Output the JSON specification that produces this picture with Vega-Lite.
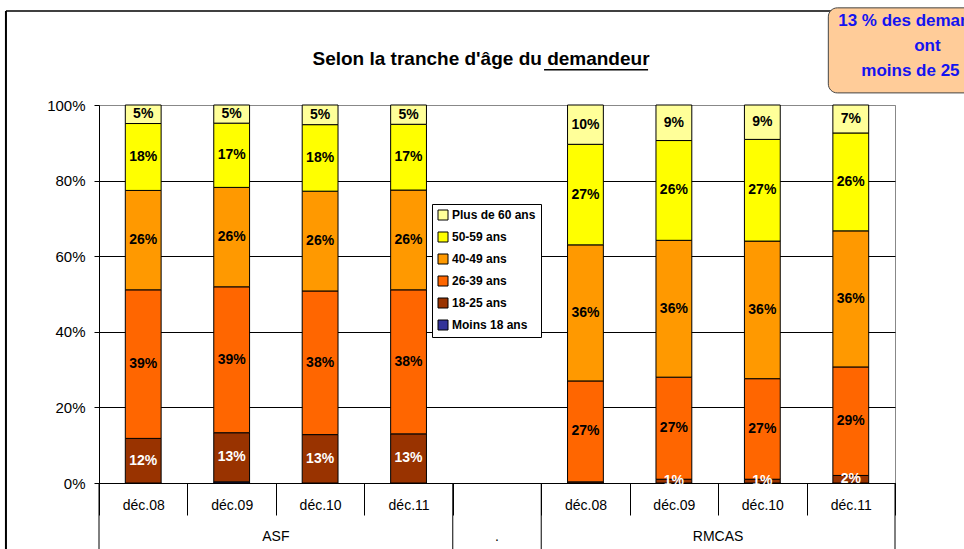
{
  "$schema": "https://vega.github.io/schema/vega-lite/v6.json",
  "width": 796,
  "height": 378,
  "autosize": "none",
  "padding": {"left": 99, "top": 105, "right": 69, "bottom": 66},
  "background": "white",
  "config": {
    "font": "Liberation Sans",
    "view": {"stroke": "#888888", "strokeWidth": 1}
  },
  "title": {
    "text": "Selon la tranche d'âge du demandeur",
    "fontSize": 19,
    "fontWeight": "bold",
    "color": "black",
    "anchor": "middle",
    "frame": "group",
    "dx": -16,
    "offset": -62
  },
  "data": {
    "values": [
      {"groupe": "ASF", "col": "ASF|déc.08", "tranche": "Moins 18 ans", "part": 0.0},
      {"groupe": "ASF", "col": "ASF|déc.08", "tranche": "18-25 ans", "part": 0.118},
      {"groupe": "ASF", "col": "ASF|déc.08", "tranche": "26-39 ans", "part": 0.393},
      {"groupe": "ASF", "col": "ASF|déc.08", "tranche": "40-49 ans", "part": 0.263},
      {"groupe": "ASF", "col": "ASF|déc.08", "tranche": "50-59 ans", "part": 0.177},
      {"groupe": "ASF", "col": "ASF|déc.08", "tranche": "Plus de 60 ans", "part": 0.049},
      {"groupe": "ASF", "col": "ASF|déc.09", "tranche": "Moins 18 ans", "part": 0.003},
      {"groupe": "ASF", "col": "ASF|déc.09", "tranche": "18-25 ans", "part": 0.130},
      {"groupe": "ASF", "col": "ASF|déc.09", "tranche": "26-39 ans", "part": 0.386},
      {"groupe": "ASF", "col": "ASF|déc.09", "tranche": "40-49 ans", "part": 0.263},
      {"groupe": "ASF", "col": "ASF|déc.09", "tranche": "50-59 ans", "part": 0.170},
      {"groupe": "ASF", "col": "ASF|déc.09", "tranche": "Plus de 60 ans", "part": 0.048},
      {"groupe": "ASF", "col": "ASF|déc.10", "tranche": "Moins 18 ans", "part": 0.0},
      {"groupe": "ASF", "col": "ASF|déc.10", "tranche": "18-25 ans", "part": 0.128},
      {"groupe": "ASF", "col": "ASF|déc.10", "tranche": "26-39 ans", "part": 0.380},
      {"groupe": "ASF", "col": "ASF|déc.10", "tranche": "40-49 ans", "part": 0.264},
      {"groupe": "ASF", "col": "ASF|déc.10", "tranche": "50-59 ans", "part": 0.176},
      {"groupe": "ASF", "col": "ASF|déc.10", "tranche": "Plus de 60 ans", "part": 0.052},
      {"groupe": "ASF", "col": "ASF|déc.11", "tranche": "Moins 18 ans", "part": 0.0},
      {"groupe": "ASF", "col": "ASF|déc.11", "tranche": "18-25 ans", "part": 0.130},
      {"groupe": "ASF", "col": "ASF|déc.11", "tranche": "26-39 ans", "part": 0.381},
      {"groupe": "ASF", "col": "ASF|déc.11", "tranche": "40-49 ans", "part": 0.264},
      {"groupe": "ASF", "col": "ASF|déc.11", "tranche": "50-59 ans", "part": 0.174},
      {"groupe": "ASF", "col": "ASF|déc.11", "tranche": "Plus de 60 ans", "part": 0.051},
      {"groupe": "RMCAS", "col": "RMCAS|déc.08", "tranche": "Moins 18 ans", "part": 0.0},
      {"groupe": "RMCAS", "col": "RMCAS|déc.08", "tranche": "18-25 ans", "part": 0.003},
      {"groupe": "RMCAS", "col": "RMCAS|déc.08", "tranche": "26-39 ans", "part": 0.267},
      {"groupe": "RMCAS", "col": "RMCAS|déc.08", "tranche": "40-49 ans", "part": 0.360},
      {"groupe": "RMCAS", "col": "RMCAS|déc.08", "tranche": "50-59 ans", "part": 0.266},
      {"groupe": "RMCAS", "col": "RMCAS|déc.08", "tranche": "Plus de 60 ans", "part": 0.104},
      {"groupe": "RMCAS", "col": "RMCAS|déc.09", "tranche": "Moins 18 ans", "part": 0.0},
      {"groupe": "RMCAS", "col": "RMCAS|déc.09", "tranche": "18-25 ans", "part": 0.010},
      {"groupe": "RMCAS", "col": "RMCAS|déc.09", "tranche": "26-39 ans", "part": 0.270},
      {"groupe": "RMCAS", "col": "RMCAS|déc.09", "tranche": "40-49 ans", "part": 0.362},
      {"groupe": "RMCAS", "col": "RMCAS|déc.09", "tranche": "50-59 ans", "part": 0.264},
      {"groupe": "RMCAS", "col": "RMCAS|déc.09", "tranche": "Plus de 60 ans", "part": 0.094},
      {"groupe": "RMCAS", "col": "RMCAS|déc.10", "tranche": "Moins 18 ans", "part": 0.0},
      {"groupe": "RMCAS", "col": "RMCAS|déc.10", "tranche": "18-25 ans", "part": 0.010},
      {"groupe": "RMCAS", "col": "RMCAS|déc.10", "tranche": "26-39 ans", "part": 0.266},
      {"groupe": "RMCAS", "col": "RMCAS|déc.10", "tranche": "40-49 ans", "part": 0.364},
      {"groupe": "RMCAS", "col": "RMCAS|déc.10", "tranche": "50-59 ans", "part": 0.269},
      {"groupe": "RMCAS", "col": "RMCAS|déc.10", "tranche": "Plus de 60 ans", "part": 0.091},
      {"groupe": "RMCAS", "col": "RMCAS|déc.11", "tranche": "Moins 18 ans", "part": 0.0},
      {"groupe": "RMCAS", "col": "RMCAS|déc.11", "tranche": "18-25 ans", "part": 0.020},
      {"groupe": "RMCAS", "col": "RMCAS|déc.11", "tranche": "26-39 ans", "part": 0.287},
      {"groupe": "RMCAS", "col": "RMCAS|déc.11", "tranche": "40-49 ans", "part": 0.360},
      {"groupe": "RMCAS", "col": "RMCAS|déc.11", "tranche": "50-59 ans", "part": 0.259},
      {"groupe": "RMCAS", "col": "RMCAS|déc.11", "tranche": "Plus de 60 ans", "part": 0.074}
    ]
  },
  "transform": [
    {"calculate": "indexof(['Moins 18 ans','18-25 ans','26-39 ans','40-49 ans','50-59 ans','Plus de 60 ans'], datum.tranche)", "as": "k"},
    {"stack": "part", "groupby": ["col"], "sort": [{"field": "k", "order": "ascending"}], "as": ["p0", "p1"]},
    {"calculate": "(datum.p0 + datum.p1) / 2", "as": "pm"}
  ],
  "encoding": {
    "x": {
      "field": "col",
      "type": "nominal",
      "scale": {
        "domain": ["ASF|déc.08", "ASF|déc.09", "ASF|déc.10", "ASF|déc.11", ".", "RMCAS|déc.08", "RMCAS|déc.09", "RMCAS|déc.10", "RMCAS|déc.11"],
        "paddingInner": 0,
        "paddingOuter": 0
      },
      "axis": {
        "title": null,
        "ticks": true,
        "tickBand": "extent",
        "labelAngle": 0,
        "labelPadding": -17,
        "labelFontSize": 14,
        "labelColor": "black",
        "labelExpr": "datum.value == '.' ? '' : split(datum.value, '|')[1]",
        "tickSize": 32,
        "tickColor": "black",
        "tickWidth": 1,
        "domainColor": "black",
        "grid": false
      }
    }
  },
  "layer": [
    {
      "data": {"values": [{"a": "ASF|déc.08", "b": "RMCAS|déc.11"}]},
      "transform": [],
      "mark": {"type": "rule", "color": "black", "strokeWidth": 1.5, "clip": false},
      "encoding": {
        "x": {"field": "a", "type": "nominal", "bandPosition": -1.052},
        "x2": {"field": "b", "bandPosition": 1.8},
        "y": {"datum": 1.2487}
      }
    },
    {
      "data": {"values": [{"a": "ASF|déc.08"}]},
      "transform": [],
      "mark": {"type": "rule", "color": "black", "strokeWidth": 2, "clip": false},
      "encoding": {
        "x": {"field": "a", "type": "nominal", "bandPosition": -1.052},
        "y": {"datum": 1.2487},
        "y2": {"datum": -0.2}
      }
    },
    {
      "mark": {"type": "bar", "width": {"band": 0.405}, "stroke": "black", "strokeWidth": 1},
      "encoding": {
        "y": {
          "field": "p0",
          "type": "quantitative",
          "scale": {"domain": [0, 1], "nice": false, "zero": true},
          "axis": {
            "title": null,
            "values": [0, 0.2, 0.4, 0.6, 0.8, 1],
            "format": ".0%",
            "labelFontSize": 15,
            "labelColor": "black",
            "labelPadding": 9,
            "tickSize": 5,
            "tickColor": "black",
            "domainColor": "black",
            "grid": true,
            "gridColor": {"condition": {"test": "datum.value == 1", "value": "#888888"}, "value": "black"},
            "gridOpacity": 1
          }
        },
        "y2": {"field": "p1"},
        "color": {
          "field": "tranche",
          "type": "nominal",
          "scale": {
            "domain": ["Plus de 60 ans", "50-59 ans", "40-49 ans", "26-39 ans", "18-25 ans", "Moins 18 ans"],
            "range": ["#FFFF99", "#FFFF00", "#FF9900", "#FF6600", "#993300", "#333399"]
          },
          "legend": {
            "title": null,
            "orient": "none",
            "legendX": 333,
            "legendY": 99,
            "fillColor": "white",
            "strokeColor": "black",
            "padding": 5,
            "rowPadding": 8,
            "symbolType": "square",
            "symbolSize": 100,
            "symbolStrokeColor": "black",
            "symbolStrokeWidth": 1,
            "symbolOpacity": 1,
            "labelFontSize": 12,
            "labelFontWeight": "bold",
            "labelColor": "black",
            "labelOffset": 3
          }
        }
      }
    },
    {
      "transform": [{"filter": "datum.part >= 0.005"}],
      "mark": {"type": "text", "fontSize": 14, "fontWeight": "bold", "baseline": "middle", "align": "center"},
      "encoding": {
        "y": {"field": "pm", "type": "quantitative"},
        "text": {"field": "part", "type": "quantitative", "format": ".0%"},
        "color": {
          "condition": {"test": "datum.tranche == '18-25 ans'", "value": "white"},
          "value": "black"
        }
      }
    },
    {
      "data": {"values": [{"col": "ASF|déc.08"}, {"col": "."}, {"col": "RMCAS|déc.08"}]},
      "transform": [],
      "mark": {"type": "rule", "color": "black", "strokeWidth": 1, "clip": false},
      "encoding": {
        "x": {"field": "col", "type": "nominal", "bandPosition": 0},
        "y": {"datum": 0},
        "y2": {"datum": -0.18}
      }
    },
    {
      "data": {"values": [{"col": "RMCAS|déc.11"}]},
      "transform": [],
      "mark": {"type": "rule", "color": "black", "strokeWidth": 1, "clip": false},
      "encoding": {
        "x": {"field": "col", "type": "nominal", "bandPosition": 1},
        "y": {"datum": 0},
        "y2": {"datum": -0.18}
      }
    },
    {
      "data": {"values": [{"col": "ASF|déc.09", "groupe": "ASF"}, {"col": "RMCAS|déc.09", "groupe": "RMCAS"}]},
      "transform": [],
      "mark": {"type": "text", "fontSize": 14, "color": "black", "baseline": "middle", "align": "center", "clip": false},
      "encoding": {
        "x": {"field": "col", "type": "nominal", "bandPosition": 1},
        "y": {"datum": -0.142},
        "text": {"field": "groupe"}
      }
    },
    {
      "data": {"values": [{"col": ".", "groupe": "."}]},
      "transform": [],
      "mark": {"type": "text", "fontSize": 14, "color": "black", "baseline": "middle", "align": "center", "clip": false},
      "encoding": {
        "x": {"field": "col", "type": "nominal", "bandPosition": 0.5},
        "y": {"datum": -0.142},
        "text": {"field": "groupe"}
      }
    },
    {
      "data": {"values": [{"a": "RMCAS|déc.08", "b": "RMCAS|déc.09"}]},
      "transform": [],
      "mark": {"type": "rule", "color": "black", "strokeWidth": 1.5, "clip": false},
      "encoding": {
        "x": {"field": "a", "type": "nominal", "bandPosition": 0.032},
        "x2": {"field": "b", "bandPosition": 0.208},
        "y": {"datum": 1.093}
      }
    },
    {
      "data": {"values": [{"c": "RMCAS|déc.11"}]},
      "transform": [],
      "mark": {"type": "rect", "fill": "#FFCC99", "stroke": "#444444", "strokeWidth": 1, "cornerRadius": 9, "clip": false},
      "encoding": {
        "x": {"field": "c", "type": "nominal", "bandPosition": 0.246},
        "x2": {"field": "c", "bandPosition": 2.5},
        "y": {"datum": 1.257},
        "y2": {"datum": 1.032}
      }
    },
    {
      "data": {"values": [{"c": "RMCAS|déc.11", "note": ["13 % des demandeurs", "ont", "moins de 25 ans"]}]},
      "transform": [],
      "mark": {"type": "text", "fontSize": 17, "fontWeight": "bold", "color": "#1414F0", "align": "center", "baseline": "top", "lineHeight": 25, "clip": false},
      "encoding": {
        "x": {"field": "c", "type": "nominal", "bandPosition": 1.367},
        "y": {"datum": 1.243},
        "text": {"field": "note"}
      }
    }
  ]
}
